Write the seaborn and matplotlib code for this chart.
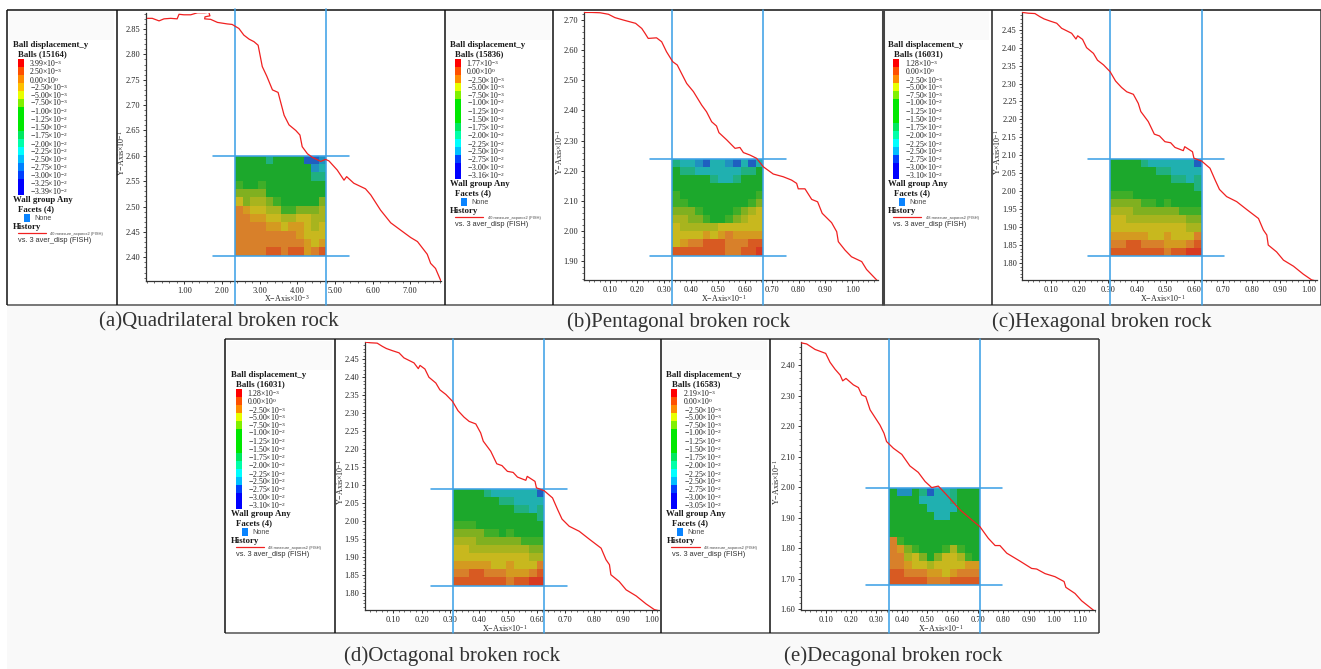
import matplotlib
matplotlib.use("Agg")
import matplotlib.pyplot as plt
from matplotlib.colors import ListedColormap
from matplotlib.patches import Rectangle
from matplotlib.ticker import AutoMinorLocator, FixedLocator, FormatStrFormatter
import numpy as np
import pandas as pd
import seaborn as sns

# ---------- data ----------
a_x = [0.02,0.15,0.33,0.46,0.64,0.81,0.86,0.99,1.17,1.35,1.54,1.65,1.68,1.55,1.54,1.70,1.88,2.14,2.27,2.45,2.58,2.72,2.85,2.96,3.07,3.19,3.34,3.49,3.65,3.78,3.96,4.07,4.13,4.27,4.40,4.62,4.75,4.84,5.06,5.24,5.31,5.50,5.81,5.95,6.21,6.48,6.79,7.01,7.19,7.45,7.54,7.67,7.82]
a_y = [2.871,2.871,2.866,2.870,2.871,2.870,2.879,2.878,2.878,2.882,2.882,2.883,2.876,2.874,2.870,2.869,2.863,2.860,2.859,2.851,2.838,2.830,2.825,2.818,2.776,2.757,2.730,2.725,2.680,2.661,2.650,2.641,2.618,2.604,2.597,2.589,2.593,2.590,2.572,2.552,2.559,2.546,2.535,2.523,2.493,2.468,2.451,2.439,2.431,2.406,2.388,2.378,2.352]
b_x = [0.003,0.031,0.062,0.093,0.117,0.148,0.173,0.194,0.217,0.229,0.241,0.272,0.291,0.309,0.332,0.349,0.365,0.384,0.409,0.440,0.458,0.477,0.495,0.504,0.533,0.564,0.582,0.595,0.619,0.644,0.669,0.706,0.743,0.774,0.793,0.799,0.824,0.849,0.871,0.888,0.923,0.942,0.948,0.973,0.997,1.035,1.053,1.094]
b_y = [2.724,2.724,2.723,2.718,2.707,2.699,2.693,2.688,2.671,2.655,2.638,2.640,2.627,2.594,2.561,2.550,2.522,2.489,2.462,2.417,2.395,2.362,2.348,2.326,2.302,2.274,2.277,2.260,2.252,2.241,2.213,2.189,2.180,2.169,2.158,2.140,2.140,2.105,2.097,2.059,2.028,1.998,1.965,1.937,1.915,1.899,1.873,1.835]
c_x = [0.002,0.022,0.045,0.063,0.077,0.098,0.121,0.138,0.173,0.188,0.194,0.211,0.225,0.249,0.263,0.284,0.307,0.326,0.347,0.365,0.388,0.405,0.414,0.440,0.461,0.479,0.498,0.518,0.533,0.562,0.567,0.594,0.599,0.626,0.655,0.673,0.688,0.713,0.748,0.783,0.824,0.841,0.853,0.858,0.887,0.911,0.946,0.980,1.009,1.024]
c_y = [2.498,2.496,2.495,2.486,2.480,2.474,2.468,2.454,2.440,2.424,2.433,2.423,2.400,2.384,2.365,2.352,2.333,2.307,2.289,2.277,2.270,2.245,2.222,2.194,2.159,2.154,2.138,2.135,2.122,2.113,2.124,2.110,2.092,2.084,2.064,2.031,2.005,1.985,1.971,1.949,1.924,1.892,1.878,1.850,1.831,1.808,1.791,1.769,1.753,1.750]
e_x = [0.001,0.025,0.058,0.100,0.117,0.137,0.157,0.167,0.180,0.209,0.229,0.242,0.258,0.275,0.314,0.330,0.340,0.367,0.400,0.432,0.465,0.492,0.518,0.544,0.577,0.630,0.676,0.708,0.741,0.768,0.787,0.814,0.866,0.912,0.932,0.965,1.004,1.040,1.047,1.083,1.109,1.159]
e_y = [2.474,2.470,2.452,2.439,2.410,2.387,2.368,2.349,2.357,2.336,2.327,2.303,2.297,2.254,2.204,2.177,2.150,2.128,2.108,2.070,2.049,2.019,1.999,2.004,1.975,1.926,1.893,1.871,1.833,1.809,1.809,1.784,1.758,1.734,1.732,1.717,1.707,1.691,1.672,1.652,1.628,1.595]

# displacement band of the ball assembly, coarse cells, top row first
a_field = [[5,5,5,5,4,5,5,5,5,1,1,2],[5,5,5,5,5,5,5,5,5,5,2,3],[5,5,5,5,5,5,5,5,5,5,4,4],[6,5,5,6,5,5,5,5,5,5,5,5],
           [7,7,7,7,5,5,5,5,5,5,5,5],[9,7,8,8,7,6,5,5,5,5,5,7],[11,10,9,9,8,8,6,6,7,7,7,8],[11,11,10,10,9,9,8,8,9,9,8,8],
           [11,11,11,11,10,10,9,10,10,9,8,9],[11,11,11,11,11,11,11,11,10,9,9,9],[11,11,11,11,11,11,11,11,11,10,9,10],[11,11,11,11,12,12,11,12,12,10,11,12]]
b_field = [[4,3,3,2,1,3,3,2,1,3,1,3],[5,4,4,3,3,3,3,3,3,4,4,5],[5,5,5,5,5,4,3,3,4,5,5,5],[5,5,5,5,5,5,5,5,5,5,5,5],
           [6,5,5,5,5,5,5,5,5,5,5,6],[6,6,5,5,5,5,5,5,5,5,6,7],[7,7,7,6,5,5,5,5,6,7,8,9],[8,8,7,7,6,5,5,6,7,8,9,9],
           [9,8,8,8,8,8,9,9,9,9,9,9],[9,9,9,9,10,9,10,11,10,10,10,10],[9,10,11,11,12,12,12,11,11,11,12,12],[12,12,12,12,12,12,12,11,11,12,12,13]]
c_field = [[5,5,5,5,4,3,3,3,3,3,3,1],[5,5,5,5,5,5,4,4,3,3,3,3],[5,5,5,5,5,5,5,5,4,4,3,4],[5,5,5,5,5,5,5,5,5,5,5,4],
           [6,6,6,5,5,5,5,5,5,5,5,5],[7,7,7,7,6,6,5,6,5,5,5,5],[8,8,8,7,7,7,7,7,7,6,6,6],[9,9,8,8,8,8,8,8,8,8,7,7],
           [9,9,9,9,9,9,9,9,9,9,8,8],[10,10,10,10,10,9,9,10,9,9,9,11],[11,11,12,12,11,11,11,10,10,10,11,12],[12,12,12,12,12,12,12,11,12,12,13,13]]
e_field = [[5,2,2,5,4,1,3,3,4,5,5,5],[5,5,5,5,3,3,3,3,4,5,5,5],[5,5,5,5,5,3,3,3,3,5,5,5],[5,5,5,5,5,5,3,3,5,5,5,5],
           [5,5,5,5,5,5,5,5,5,5,5,5],[5,5,5,5,5,5,5,5,5,5,5,5],[11,6,5,5,5,5,5,5,5,5,5,5],[11,10,7,6,5,5,5,6,8,6,5,5],
           [11,11,8,9,7,5,7,9,9,8,6,5],[11,11,10,9,9,8,9,9,9,9,10,10],[12,12,11,11,11,10,10,9,10,11,11,11],[12,12,12,12,12,11,11,11,12,12,12,12]]

# legend band order, top to bottom
bands_17 = [13,12,11,10,9,8,7,7,7,6,5,4,3,2,1,0,0]
bands_15 = [13,12,11,9,8,7,7,7,6,5,4,3,1,0,0]

# colour legend labels: (mantissa, exponent)
tail = [("-2.50",-3),("-5.00",-3),("-7.50",-3),("-1.00",-2),("-1.25",-2),("-1.50",-2),("-1.75",-2),("-2.00",-2),("-2.25",-2),("-2.50",-2),("-2.75",-2),("-3.00",-2)]
a_labels = [("3.99",-3),("2.50",-3),("0.00",0)] + tail + [("-3.25",-2),("-3.39",-2)]
b_labels = [("1.77",-3),("0.00",0)] + tail + [("-3.16",-2)]
c_labels = [("1.28",-3),("0.00",0)] + tail + [("-3.10",-2)]
e_labels = [("2.19",-3),("0.00",0)] + tail + [("-3.05",-2)]

a_xticks = [1,2,3,4,5,6,7]
a_yticks = [2.40,2.45,2.50,2.55,2.60,2.65,2.70,2.75,2.80,2.85]
b_xticks = [0.1,0.2,0.3,0.4,0.5,0.6,0.7,0.8,0.9,1.0]
b_yticks = [1.9,2.0,2.1,2.2,2.3,2.4,2.5,2.6,2.7]
c_xticks = b_xticks
c_yticks = [1.80,1.85,1.90,1.95,2.00,2.05,2.10,2.15,2.20,2.25,2.30,2.35,2.40,2.45]
e_xticks = [0.1,0.2,0.3,0.4,0.5,0.6,0.7,0.8,0.9,1.0,1.1]
e_yticks = [1.6,1.7,1.8,1.9,2.0,2.1,2.2,2.3,2.4]

# wall positions in axis units: left, right, bottom, top, horizontal wall left end, right end
a_walls = [2.354,4.770,2.403,2.600,1.754,5.365]
b_walls = [0.331,0.669,1.919,2.240,0.2465,0.753]
c_walls = [0.308,0.626,1.820,2.091,0.231,0.705]
d_walls = [0.310,0.626,1.820,2.090,0.232,0.705]
e_walls = [0.350,0.708,1.679,1.998,0.260,0.796]

captions = ["(a)Quadrilateral broken rock","(b)Pentagonal broken rock","(c)Hexagonal broken rock","(d)Octagonal broken rock","(e)Decagonal broken rock"]

legend_palette = ["#0000ff","#0040ff","#0080ff","#00bfff","#00ffff","#00ffa8","#00e860","#00e800","#80f000","#e8ff00","#ffbf00","#ff8c00","#ff5000","#ff0000"]
field_palette = ["#1a3fc8","#1f5fc0","#2090c0","#20b0b0","#20b080","#1ca82c","#3fae28","#80b020","#a8b41e","#c8b81e","#d49a20","#d8802a","#d85a22","#d83a22"]

# ---------- layout (pixels in the 1321x669 canvas) ----------
W, H = 1321, 669
sns.set_theme(style="white")
plt.rcParams.update({"font.family": ["Liberation Serif","DejaVu Serif"], "mathtext.fontset": "custom",
                     "mathtext.rm": "Liberation Serif", "mathtext.default": "rm", "axes.unicode_minus": True})
fig = plt.figure(figsize=(W/100, H/100), dpi=100, facecolor="white")
bg = fig.add_axes([0,0,1,1], zorder=-1)
bg.set_xlim(0,W); bg.set_ylim(H,0); bg.axis("off")
bg.add_patch(Rectangle((7,305),W-7,H-305,fc="#f9f9f9",ec="none"))
bg.add_patch(Rectangle((225,339),873.5,293.5,fc="white",ec="none"))

for y,x0,x1,c,lw in [(9.5,7,1321,"#111111",1.1),(304.5,7,1321,"#777777",1.4),(339.3,225,1099,"#333333",1.1),(632.5,225,1099,"#777777",1.4)]:
    bg.plot([x0,x1],[y,y],color=c,lw=lw,solid_capstyle="butt")
for x,y0,y1,c,lw in [(7.3,9.5,304.5,"#111111",1.1),(117,9.5,304.5,"#111111",1.1),(445,9.5,304.5,"#111111",1.1),(553.3,9.5,304.5,"#111111",1.1),
                     (882.6,9.5,304.5,"#444444",2.2),(992.3,9.5,304.5,"#222222",1.1),(1320.5,9.5,304.5,"#333333",1.1),
                     (225.3,339.3,632.5,"#111111",1.1),(334.7,339.3,632.5,"#111111",1.1),(661.3,339.3,632.5,"#111111",1.1),
                     (770.3,339.3,632.5,"#111111",1.1),(1098.7,339.3,632.5,"#333333",1.1)]:
    bg.plot([x,x],[y0,y1],color=c,lw=lw,solid_capstyle="butt")

label_rows = [63.7,71.3,80,87.3,95.3,103,111.7,119.3,127.3,135.7,144.3,151.7,159.7,167.7,175.3,183.3,191.3]
txt = "#1a1a1a"

def value_text(m, e):
    sign = "$-$" if m.startswith("-") else ""
    return f"{sign}{m.lstrip('-')}×10$^{{{e}}}$"

def draw_legend(dx, dy, count, bands, labels, n40):
    bg.add_patch(Rectangle((8.5+dx,11+dy),105,29,fc="#fafafa",ec="none"))
    T = lambda x,y,s,**k: bg.text(x+dx,y+dy,s,va="center",ha="left",color=txt,**k)
    T(12.7,45,"Ball displacement_y",fontsize=6.3,fontweight="bold")
    T(18.2,54.5,f"Balls ({count})",fontsize=6.3,fontweight="bold")
    top, rows = 59, len(bands)
    bax = fig.add_axes([(17.7+dx)/W,1-(top+dy+rows*8)/H,6/W,rows*8/H])
    sns.heatmap(np.array(bands)[:,None],ax=bax,cmap=ListedColormap(legend_palette),vmin=-.5,vmax=13.5,cbar=False,xticklabels=False,yticklabels=False)
    for (m,e),y in zip(labels,label_rows):
        x = 30 if m.startswith("-") else 29.3
        T(x,y,value_text(m,e),fontsize=5.6)
    off = (rows-17)*8
    T(12.7,200+off,"Wall group Any",fontsize=6.3,fontweight="bold")
    T(18.2,209.5+off,"Facets (4)",fontsize=6.3,fontweight="bold")
    bg.add_patch(Rectangle((23.5+dx,213.5+off+dy),6,8.5,fc="#0a84ff",ec="none"))
    T(34,218.3+off,"None",fontsize=5.2,family="Liberation Sans",alpha=.8)
    T(12.7,227+off,"History",fontsize=6.3,fontweight="bold")
    bg.plot([17.7+dx,46+dx],[232.8+off+dy]*2,color="#f02020",lw=0.9)
    T(50.5,233.8+off,f"{n40} measure_axporos2 (FISH)",fontsize=2.9,family="Liberation Sans",alpha=.8)
    T(18,241+off,"vs. 3 aver_disp (FISH)",fontsize=5.3,family="Liberation Sans",alpha=.9)

def lims(p0, p1, t_a, p_a, t_b, p_b):
    s = (t_b-t_a)/(p_b-p_a)
    return t_a+(p0-p_a)*s, t_a+(p1-p_a)*s

def draw_panel(box, frame, xcal, ycal, xs, ys, field, walls, xticks, yticks, xexp, yexp):
    L,R,B,Tp = box
    ax = fig.add_axes([L/W,1-B/H,(R-L)/W,(B-Tp)/H],facecolor="none",zorder=2)
    ax.set_xlim(*lims(L,R,*xcal)); ax.set_ylim(*lims(B,Tp,*ycal))
    x0,x1,y0,y1,hl,hr = walls
    iax = ax.inset_axes([x0,y0,x1-x0,y1-y0],transform=ax.transData,zorder=1.5)
    sns.heatmap(np.array(field),ax=iax,cmap=ListedColormap(field_palette),vmin=-.5,vmax=13.5,cbar=False,xticklabels=False,yticklabels=False)
    df = pd.DataFrame({"x":xs,"y":ys})
    sns.lineplot(data=df,x="x",y="y",ax=ax,estimator=None,sort=False,errorbar=None,color="#f02020",lw=0.9,zorder=4)
    ymin = (B-frame[1])/(B-Tp); ymax = (B-frame[0])/(B-Tp)
    for v in (x0,x1):
        ax.axvline(v,ymin,ymax,color="#3ea2e6",lw=1.15,clip_on=False,zorder=3)
    for v in (y0,y1):
        ax.plot([hl,hr],[v,v],color="#3ea2e6",lw=1.15,clip_on=False,zorder=3)
    sns.despine(ax=ax)
    for s in ("left","bottom"):
        ax.spines[s].set_color("#333333"); ax.spines[s].set_linewidth(0.9)
    ax.xaxis.set_major_locator(FixedLocator(xticks)); ax.yaxis.set_major_locator(FixedLocator(yticks))
    ax.xaxis.set_minor_locator(AutoMinorLocator(5)); ax.yaxis.set_minor_locator(AutoMinorLocator(5))
    ax.xaxis.set_major_formatter(FormatStrFormatter("%.2f")); ax.yaxis.set_major_formatter(FormatStrFormatter("%.2f"))
    ax.tick_params(axis="both",which="major",length=2.2,width=0.7,color="#333333",labelsize=6,labelcolor="#222222",pad=1.8,left=True,bottom=True,direction="out")
    ax.tick_params(axis="both",which="minor",length=1.2,width=0.5,color="#333333",left=True,bottom=True,direction="out")
    ax.set_xlabel(f"X$-$Axis×10$^{{{xexp}}}$",fontsize=5.8,color="#222222",va="center")
    ax.set_ylabel(f"Y$-$Axis×10$^{{{yexp}}}$",fontsize=5.8,color="#222222",va="center")
    ax.xaxis.set_label_coords(0.5-7/(R-L),-18/(B-Tp))
    ax.yaxis.set_label_coords(-24.5/(R-L),0.5-6/(B-Tp))

draw_legend(0,0,15164,bands_17,a_labels,40)
draw_legend(437,0,15836,bands_15,b_labels,40)
draw_legend(875.3,0,16031,bands_15,c_labels,48)
draw_legend(218,330,16031,bands_15,c_labels,48)
draw_legend(653.7,330,16583,bands_15,e_labels,48)

top_f, bot_f = (9.5,304.5), (339.3,632.5)
draw_panel((146,441,281,12.7),top_f,(1,184.3,7,410.3),(2.40,257.3,2.85,29),a_x,a_y,a_field,a_walls,a_xticks,a_yticks,-3,-1)
draw_panel((584,877.7,280.3,12),top_f,(0.1,610.3,1.0,852.3),(1.90,261.3,2.70,19.7),b_x,b_y,b_field,b_walls,b_xticks,b_yticks,-1,-1)
draw_panel((1022.3,1316.7,280.3,12),top_f,(0.1,1050.7,1.0,1309),(1.80,263,2.45,29.7),c_x,c_y,c_field,c_walls,c_xticks,c_yticks,-1,-1)
draw_panel((364.7,658.7,610.3,341.7),bot_f,(0.1,393,1.0,651.7),(1.80,592.7,2.45,359.3),c_x,c_y,c_field,d_walls,c_xticks,c_yticks,-1,-1)
draw_panel((800.7,1094.7,610.3,341.7),bot_f,(0.1,825.7,1.1,1079.3),(1.60,609.3,2.40,365.3),e_x,e_y,e_field,e_walls,e_xticks,e_yticks,-1,-1)

for cap,(cx,cy) in zip(captions,[(219,322),(678.5,322),(1101.5,322),(451.8,656),(893,656)]):
    bg.text(cx,cy,cap,ha="center",va="center",fontsize=15,color="#333333")

fig.savefig("out.png",dpi=100,facecolor="white")
